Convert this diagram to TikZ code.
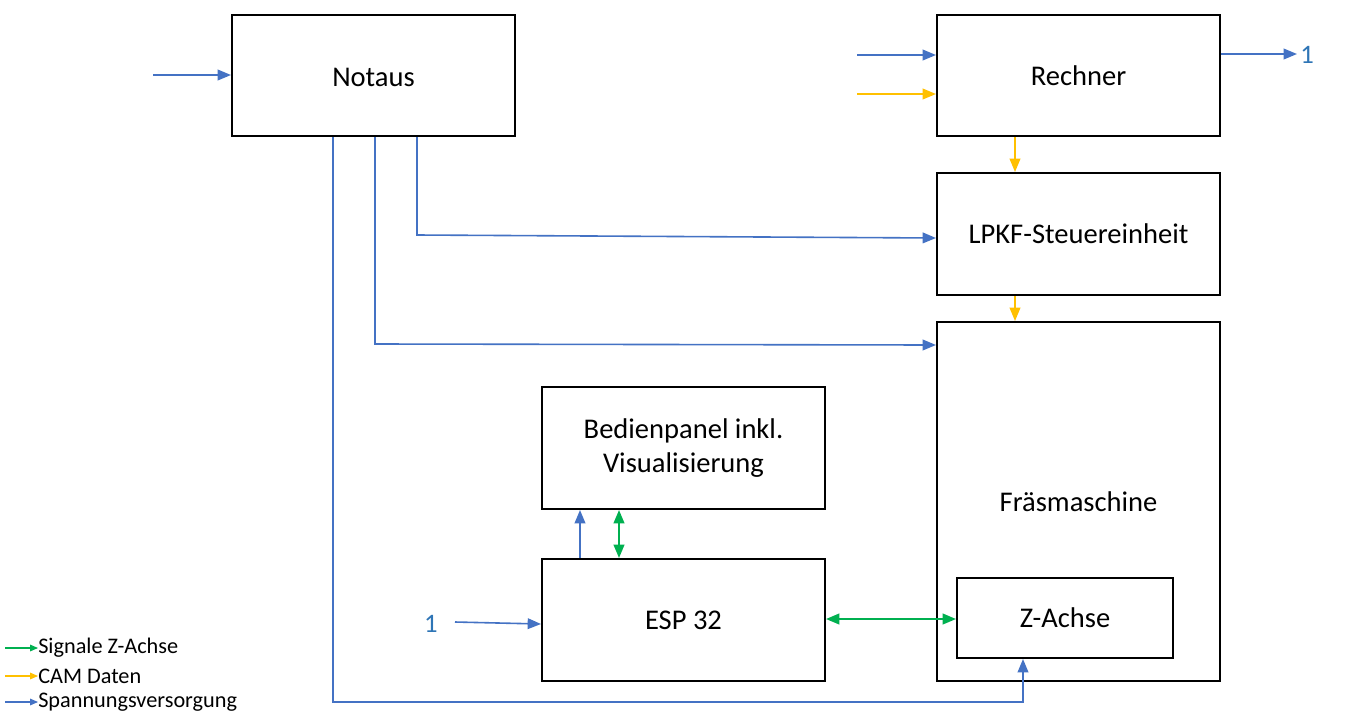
\documentclass[tikz,border=0pt]{standalone}
\usepackage{fontspec}
\setmainfont{Carlito}
\usetikzlibrary{arrows.meta}
\definecolor{cblue}{HTML}{4472C4}
\definecolor{cyel}{HTML}{FFC000}
\definecolor{cgreen}{HTML}{00B050}
\definecolor{clab}{HTML}{2E75B6}
\begin{document}
\begin{tikzpicture}[x=0.75pt,y=-0.75pt,
  blk/.style={draw=black,line width=1.5pt,inner sep=0pt,font=\fontsize{21.4}{26}\selectfont,align=center},
  tipA/.style={-{Triangle[length=10pt,width=8pt]}},
  tipB/.style={{Triangle[length=10pt,width=8pt]}-{Triangle[length=10pt,width=8pt]}},
  bl/.style={draw=cblue,line width=1.2pt},
  yl/.style={draw=cyel,line width=1.2pt},
  gr/.style={draw=cgreen,line width=1.5pt},
  leg/.style={-{Triangle[length=6pt,width=5pt]},line width=0.8pt},
  legtxt/.style={anchor=west,inner sep=0pt,font=\fontsize{16.7}{19}\selectfont},
  lab/.style={text=clab,inner sep=0pt,font=\fontsize{20}{22}\selectfont}]
\useasboundingbox (0,0) rectangle (1350,715);
\fill[white] (0,0) rectangle (1350,715);
% boxes
\node[blk,minimum width=283*0.75pt,minimum height=121*0.75pt] (notaus) at (373.5,75.5) {};
\node[font=\fontsize{21.4}{26}\selectfont] (notaustxt) at (373.5,77) {Notaus};
\node[blk,minimum width=283*0.75pt,minimum height=121*0.75pt] (rechner) at (1078.5,75.5) {Rechner};
\node[blk,minimum width=283*0.75pt,minimum height=122*0.75pt] (lpkf) at (1078.5,234) {LPKF-Steuereinheit};
\node[blk,minimum width=283*0.75pt,minimum height=359*0.75pt] (fraes) at (1078.5,501.5) {};
\node[font=\fontsize{21.4}{26}\selectfont] (fraestxt) at (1078.5,502) {Fräsmaschine};
\node[blk,minimum width=216*0.75pt,minimum height=80*0.75pt] (zachse) at (1065,618) {Z-Achse};
\node[blk,minimum width=283*0.75pt,minimum height=122*0.75pt] (bed) at (683.5,448) {Bedienpanel inkl.\\Visualisierung};
\node[blk,minimum width=283*0.75pt,minimum height=122*0.75pt] (esp) at (683.5,620) {ESP 32};
% coordinates
\coordinate (nin) at (153,75);
\coordinate (rin1) at (857,55);
\coordinate (rin2) at (857,94);
\coordinate (rout) at (1297,54);
\node[lab,anchor=west] (one1) at (1300,55) {1};
\node[lab] (one2) at (431,624) {1};
% arrows into boxes
\draw[bl,tipA] (nin) -- (notaus.west |- nin);
\draw[bl,tipA] (rin1) -- (rechner.west |- rin1);
\draw[yl,tipA] (rin2) -- (rechner.west |- rin2);
\draw[bl,tipA] (rechner.east |- rout) -- (rout);
\draw[yl,tipA] (rechner.south -| 1015,0) -- (lpkf.north -| 1015,0);
\draw[yl,tipA] (lpkf.south -| 1015,0) -- (fraes.north -| 1015,0);
% from Notaus
\draw[bl,tipA] (notaus.south -| 417,0) -- (417,235) -- (lpkf.west |- 0,238);
\draw[bl,tipA] (notaus.south -| 375,0) -- (375,344) -- (fraes.west |- 0,345);
\draw[bl,tipA] (notaus.south -| 333,0) -- (333,702) -- (1023,702) -- (zachse.south -| 1023,0);
% ESP
\draw[bl,tipA] (455,622) -- (esp.west |- 0,624);
\draw[bl,tipA] (esp.north -| 580,0) -- (bed.south -| 580,0);
\draw[gr,tipB] (esp.north -| 619,0) -- (bed.south -| 619,0);
\draw[gr,tipB] (esp.east |- 0,619) -- (zachse.west |- 0,619);
% legend
\coordinate (l1) at (5,648);
\coordinate (l2) at (5,676);
\coordinate (l3) at (5,702);
\node[legtxt] (t1) at (38,648) {Signale Z-Achse};
\node[legtxt] (t2) at (38,676) {CAM Daten};
\node[legtxt] (t3) at (38,702) {Spannungsversorgung};
\draw[leg,cgreen] (l1) -- (t1.west);
\draw[leg,cyel] (l2) -- (t2.west);
\draw[leg,cblue] (l3) -- (t3.west);
\end{tikzpicture}
\end{document}
